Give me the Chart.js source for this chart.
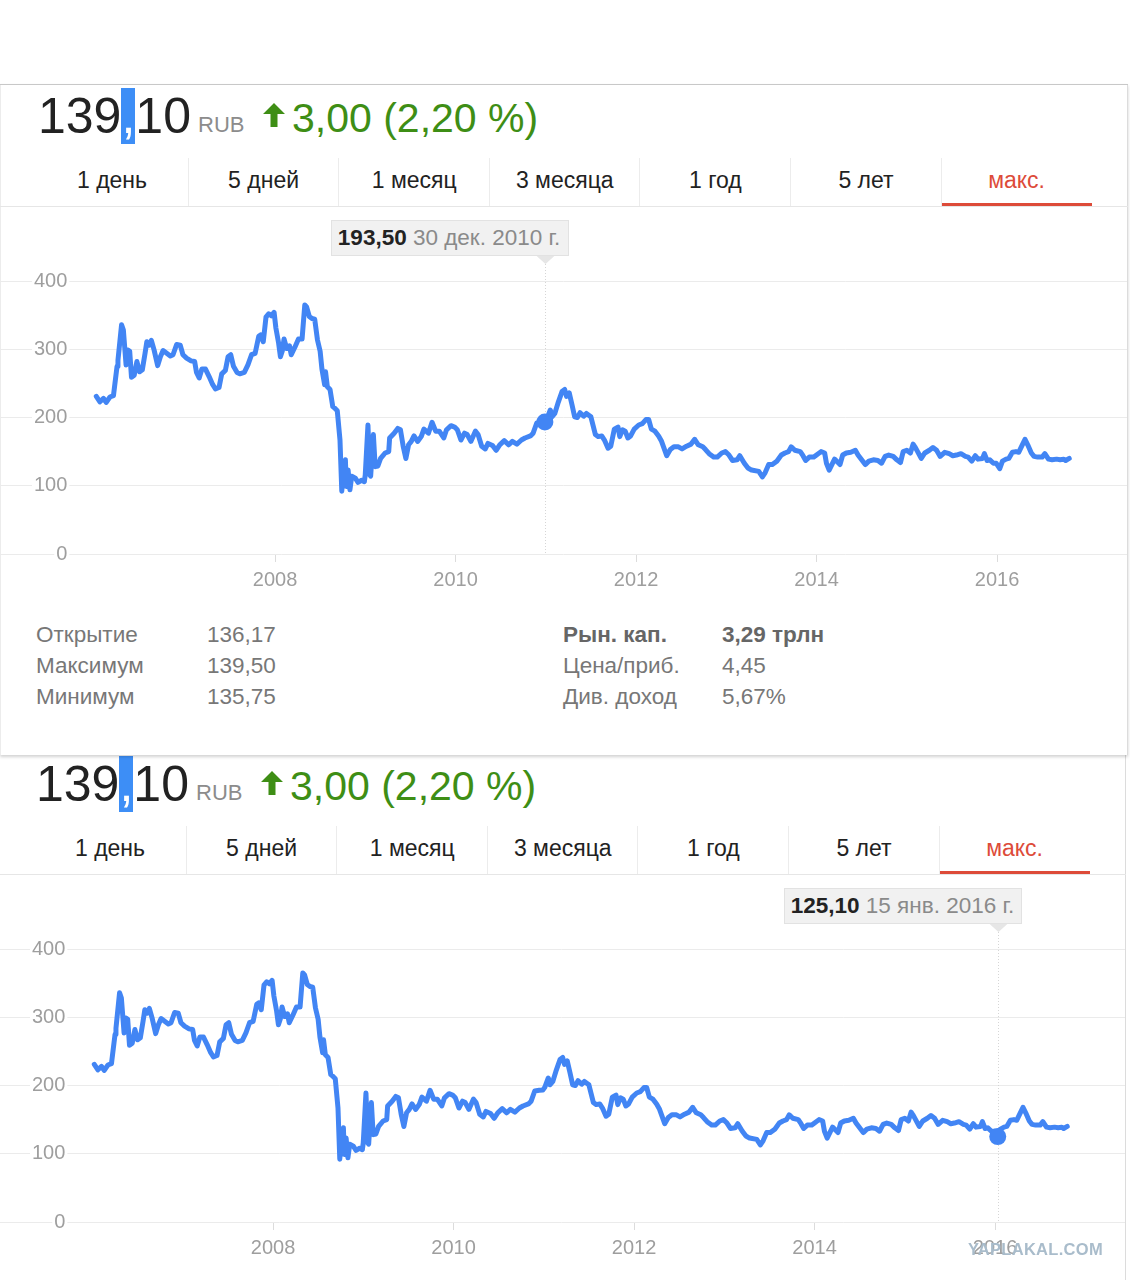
<!DOCTYPE html>
<html>
<head>
<meta charset="utf-8">
<script src="https://cdn.jsdelivr.net/npm/chart.js@4.4.1/dist/chart.umd.min.js"></script>
<style>
  body { margin: 0; width: 1130px; height: 1280px; overflow: hidden; position: relative; background: #fff;
         font-family: "Liberation Sans", Arial, sans-serif; }
  .panel { position: absolute; width: 1128px; background: #fff; }
  #p1 { left: 0; top: 84px; height: 671px; z-index: 2;
        box-shadow: inset 0 1px 0 #c8c8c8, inset -1px 0 0 #dcdcdc, inset 1px 0 0 #ececec, 0 2px 3px rgba(0,0,0,.18); }
  #p2 { left: -2px; top: 752px; height: 560px; z-index: 1; box-shadow: inset -1px 0 0 #dcdcdc; }
  .abs { position: absolute; white-space: nowrap; }
  .price { left: 38px; top: 7px; font-size: 50px; line-height: 50px; color: #222; }
  .price .sel { background: #3d8ef6; color: #fff; }
  .cur { left: 198px; top: 30px; font-size: 22px; line-height: 22px; color: #8c8c8c; }
  .arrow { left: 263px; top: 19px; }
  .chg { left: 292px; top: 14px; font-size: 41px; line-height: 41px; color: #3e8e15; }
  .tab { top: 74px; width: 150px; height: 48px; line-height: 44px; text-align: center; font-size: 23px; color: #222; }
  .tab.sep { border-left: 1px solid #ececec; }
  .tab.on { color: #dd4b39; }
  .tabline { left: 0; top: 122px; width: 1128px; height: 1px; background: #e6e6e6; }
  .tabmark { top: 119px; width: 150px; height: 3px; background: #dd4b39; }
  canvas { position: absolute; left: 0; top: 123px; }
  .tip { top: 136px; width: 238px; height: 36px; box-sizing: border-box; background: #f1f1f1;
         border: 1px solid #e2e2e2; font-size: 22.5px; line-height: 34px; padding-left: 6px; color: #8a8a8a; }
  .tip b { color: #222; }
  .st { font-size: 22.5px; line-height: 30px; color: #777; }
  .st.b { font-weight: bold; color: #666; }
  #wm { left: 968px; top: 1240px; font-size: 16.5px; font-weight: bold; color: #a9bccb; letter-spacing: 0.3px; z-index: 5; }
</style>
</head>
<body>
<div id="p1" class="panel"></div>
<div id="p2" class="panel"></div>
<div id="wm" class="abs">YAPLAKAL.COM</div>

<script>
// цены акций (руб.) по датам в долях года
const dates = [
  2006.02,2006.06,2006.10,2006.13,2006.17,2006.21,2006.25,2006.26,2006.30,2006.32,2006.35,2006.37,2006.39,2006.41,2006.44,2006.47,2006.50,2006.53,2006.56,2006.58,2006.61,2006.63,2006.66,2006.70,2006.73,2006.76,2006.80,2006.84,2006.87,2006.91,2006.95,2006.98,
  2007.02,2007.07,2007.11,2007.13,2007.16,2007.19,2007.23,2007.27,2007.31,2007.34,2007.38,2007.41,2007.45,2007.48,2007.51,2007.54,2007.58,2007.61,2007.66,2007.70,2007.74,2007.78,2007.82,2007.84,2007.87,2007.90,2007.93,2007.96,2007.99,
  2008.01,2008.04,2008.06,2008.08,2008.10,2008.13,2008.16,2008.18,2008.22,2008.26,2008.30,2008.33,2008.35,2008.38,2008.41,2008.44,2008.47,2008.50,2008.52,2008.55,2008.56,2008.58,2008.61,2008.64,2008.66,2008.69,2008.72,2008.74,2008.76,2008.78,2008.79,2008.81,2008.83,2008.85,2008.89,2008.92,2008.96,2008.99,
  2009.00,2009.03,2009.05,2009.06,2009.09,2009.11,2009.14,2009.17,2009.22,2009.26,2009.27,2009.32,2009.36,2009.39,2009.42,2009.45,2009.48,2009.51,2009.54,2009.58,2009.62,2009.65,2009.70,2009.74,2009.78,2009.82,2009.87,2009.90,2009.95,2009.99,
  2010.02,2010.06,2010.10,2010.13,2010.17,2010.22,2010.25,2010.29,2010.33,2010.36,2010.41,2010.45,2010.49,2010.54,2010.59,2010.63,2010.68,2010.73,2010.77,2010.83,2010.86,2010.90,2010.95,2010.99,
  2011.01,2011.05,2011.07,2011.10,2011.14,2011.18,2011.21,2011.23,2011.26,2011.29,2011.32,2011.35,2011.38,2011.42,2011.45,2011.50,2011.55,2011.58,2011.62,2011.65,2011.69,2011.72,2011.76,2011.80,2011.82,2011.85,2011.88,2011.91,2011.94,2011.98,
  2012.03,2012.07,2012.11,2012.14,2012.17,2012.21,2012.25,2012.28,2012.31,2012.34,2012.38,2012.42,2012.47,2012.51,2012.56,2012.61,2012.65,2012.69,2012.74,2012.77,2012.81,2012.86,2012.90,2012.95,2012.99,
  2013.03,2013.07,2013.12,2013.15,2013.20,2013.24,2013.28,2013.36,2013.40,2013.43,2013.47,2013.51,2013.56,2013.61,2013.65,2013.69,2013.72,2013.76,2013.82,2013.85,2013.88,2013.92,2013.97,
  2014.00,2014.05,2014.09,2014.11,2014.14,2014.17,2014.20,2014.23,2014.26,2014.29,2014.33,2014.38,2014.43,2014.46,2014.50,2014.54,2014.58,2014.63,2014.68,2014.72,2014.76,2014.80,2014.85,2014.89,2014.93,2014.96,
  2015.00,2015.04,2015.07,2015.09,2015.12,2015.16,2015.20,2015.25,2015.29,2015.33,2015.37,2015.42,2015.47,2015.51,2015.55,2015.60,2015.65,2015.68,2015.72,2015.76,2015.79,2015.84,2015.86,2015.89,2015.92,2015.96,2015.99,
  2016.03,2016.06,2016.10,2016.13,2016.17,2016.21,2016.24,2016.28,2016.31,2016.34,2016.38,2016.41,2016.45,2016.50,2016.53,2016.57,2016.61,2016.66,2016.70,2016.74,2016.76,2016.80
];
const prices = [
  231,223,228,222,230,232,275,284,336,328,277,299,297,259,262,282,267,270,294,311,306,313,299,276,289,298,294,290,292,307,306,292,
  287,283,282,266,258,271,271,260,248,242,244,264,269,289,292,275,266,264,266,277,292,294,319,321,311,347,352,349,354,
  331,309,289,297,315,301,305,292,303,315,315,365,362,348,345,344,314,297,271,248,267,245,241,216,214,210,167,92,133,138,99,123,94,114,111,105,108,106,
  116,189,116,114,175,128,129,140,148,150,170,177,184,182,158,140,160,165,173,165,172,183,177,193,180,180,170,182,188,186,
  182,167,177,175,165,180,175,158,154,162,159,152,160,166,160,165,161,167,170,173,177,192,193,193.5,
  197,211,201,206,223,238,241,231,236,219,201,200,207,202,206,201,175,172,173,167,155,158,183,186,172,182,180,170,173,183,
  189,191,197,197,183,180,173,166,155,144,153,157,157,154,158,161,168,160,157,153,147,142,142,148,150,
  145,137,138,144,133,126,123,121,113,119,131,131,136,145,148,150,157,152,150,144,137,142,142,
  145,150,148,133,123,131,139,135,131,145,148,149,152,145,138,131,136,138,137,133,143,145,143,138,134,150,
  152,148,161,157,150,140,148,152,156,152,143,149,147,144,145,147,143,142,136,144,139,140,147,137,138,133,133,
  125.1,136,139,140,149,150,149,160,168,160,148,143,142,142,147,139,138,139,138,139,137,140
];
const yearTicks = [2008, 2010, 2012, 2014, 2016];
const valueTicks = [0, 100, 200, 300, 400];

// выделенные точки (подсказки) для двух скриншотов
const markerDates = [2010.99, 2016.03];
const markerValues = [193.5, 125.1];
const markerPriceText = ['193,50', '125,10'];
const markerDateText = ['30 дек. 2010 г.', '15 янв. 2016 г.'];

const tabs = ['1 день', '5 дней', '1 месяц', '3 месяца', '1 год', '5 лет', 'макс.'];
const statLeft = [['Открытие', '136,17'], ['Максимум', '139,50'], ['Минимум', '135,75']];
const statRight = [['Рын. кап.', '3,29 трлн'], ['Цена/приб.', '4,45'], ['Див. доход', '5,67%']];

const BLUE = '#4285f4';
Chart.defaults.font.family = '"Liberation Sans", Arial, sans-serif';

function el(parent, cls, html, style) {
  const d = document.createElement('div');
  d.className = 'abs ' + cls;
  if (html) d.innerHTML = html;
  if (style) Object.assign(d.style, style);
  parent.appendChild(d);
  return d;
}

// вертикальная пунктирная линия и "хвостик" подсказки
const hoverLine = {
  id: 'hoverLine',
  beforeDatasetsDraw(chart, args, opts) {
    const ctx = chart.ctx;
    const x = Math.round(chart.scales.x.getPixelForValue(opts.at)) + 0.5;
    const top = chart.chartArea.top;
    ctx.save();
    ctx.strokeStyle = '#d6d6d6';
    ctx.lineWidth = 1;
    ctx.setLineDash([1, 2]);
    ctx.beginPath();
    ctx.moveTo(x, top - 23);
    ctx.lineTo(x, chart.chartArea.bottom);
    ctx.stroke();
    ctx.setLineDash([]);
    ctx.fillStyle = '#e6e6e6';
    ctx.beginPath();
    ctx.moveTo(x - 10, top - 26);
    ctx.lineTo(x + 10, top - 26);
    ctx.lineTo(x, top - 17);
    ctx.closePath();
    ctx.fill();
    ctx.restore();
  }
};

function buildPanel(panel, k, withStats) {
  el(panel, 'price', '139<span class="sel">,</span>10');
  el(panel, 'cur', 'RUB');
  el(panel, 'arrow', '<svg width="22" height="24" viewBox="0 0 22 24"><polygon points="11,0 22,11 14.5,11 14.5,24 7.5,24 7.5,11 0,11" fill="#3e8e15"/></svg>');
  el(panel, 'chg', '3,00 (2,20 %)');

  tabs.forEach(function (t, i) {
    const left = 37 + i * 150.6;
    el(panel, 'tab' + (i > 0 ? ' sep' : '') + (i === 6 ? ' on' : ''), t, { left: left + 'px' });
  });
  el(panel, 'tabline', '');
  el(panel, 'tabmark', '', { left: (37 + 6 * 150.6 + 1) + 'px' });

  const cv = document.createElement('canvas');
  cv.width = 1128;
  cv.height = 393;
  panel.appendChild(cv);

  const series = dates.map(function (d, i) { return { x: d, y: prices[i] }; });

  const chart = new Chart(cv, {
    type: 'line',
    data: {
      datasets: [
        {
          data: [{ x: markerDates[k], y: markerValues[k] }],
          showLine: false,
          pointRadius: 8.5,
          pointBackgroundColor: BLUE,
          pointBorderWidth: 0,
          order: 0
        },
        {
          data: series,
          borderColor: BLUE,
          borderWidth: 5,
          borderJoinStyle: 'round',
          borderCapStyle: 'round',
          pointRadius: 0,
          tension: 0,
          order: 1
        }
      ]
    },
    options: {
      responsive: false,
      animation: false,
      events: [],
      layout: { autoPadding: false, padding: { top: 74, right: 1, left: 0, bottom: 0 } },
      plugins: { legend: { display: false }, tooltip: { enabled: false }, hoverLine: { at: markerDates[k] } },
      scales: {
        x: {
          type: 'linear',
          min: 2004.953,
          max: 2017.44,
          afterBuildTicks: function (s) { s.ticks = yearTicks.map(function (v) { return { value: v }; }); },
          afterFit: function (s) { s.height = 46; },
          border: { display: false },
          grid: { drawOnChartArea: false, drawTicks: true, tickLength: 8, color: '#dcdcdc' },
          ticks: { color: '#9e9e9e', font: { size: 20 }, padding: 6, maxRotation: 0,
                   callback: function (v) { return String(v); } }
        },
        y: {
          min: 0,
          max: 400,
          afterBuildTicks: function (s) { s.ticks = valueTicks.map(function (v) { return { value: v }; }); },
          afterFit: function (s) { s.width = 0; },
          border: { display: false },
          grid: { color: '#ebebeb', lineWidth: 1, drawTicks: false },
          ticks: {
            mirror: true, crossAlign: 'far', padding: 34,
            color: '#9e9e9e', font: { size: 20 },
            showLabelBackdrop: true, backdropColor: '#ffffff',
            backdropPadding: { top: 0, bottom: 0, left: 2, right: 2 },
            callback: function (v) { return String(v); }
          }
        }
      }
    },
    plugins: [hoverLine]
  });

  const px = chart.scales.x.getPixelForValue(markerDates[k]);
  el(panel, 'tip', '<b>' + markerPriceText[k] + '</b> ' + markerDateText[k], { left: (px - 214) + 'px' });

  if (withStats) {
    const rows = [551, 582, 613];
    statLeft.forEach(function (r, i) {
      el(panel, 'st', r[0], { left: '36px', top: (rows[i] - 15) + 'px' });
      el(panel, 'st', r[1], { left: '207px', top: (rows[i] - 15) + 'px' });
    });
    statRight.forEach(function (r, i) {
      const b = i === 0 ? ' b' : '';
      el(panel, 'st' + b, r[0], { left: '563px', top: (rows[i] - 15) + 'px' });
      el(panel, 'st' + b, r[1], { left: '722px', top: (rows[i] - 15) + 'px' });
    });
  }
}

buildPanel(document.getElementById('p1'), 0, true);
buildPanel(document.getElementById('p2'), 1, false);
</script>
</body>
</html>
